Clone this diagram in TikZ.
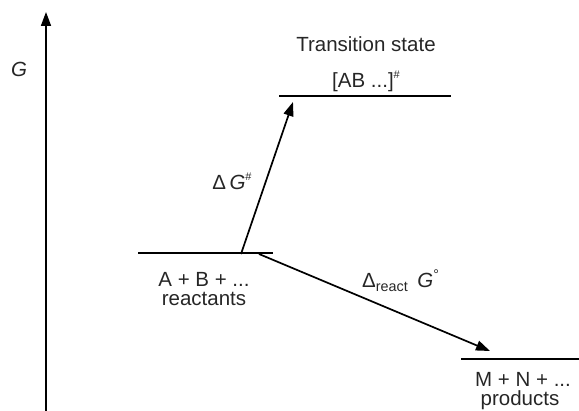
\documentclass[tikz,border=0pt]{standalone}
\usepackage{fontspec}
\setmainfont{Liberation Sans}
\usetikzlibrary{arrows.meta}
\newcommand{\hashsup}{\raisebox{9pt}{\fontsize{11}{11}\selectfont\#}}
\begin{document}
\begin{tikzpicture}[x=1pt,y=-1pt,
  lvl/.style={line width=1.7pt},
  arr/.style={line width=1.7pt,-{Triangle[length=14pt,width=10pt]}},
  txt/.style={font=\fontsize{20.5}{24}\selectfont, inner sep=0pt, text=black!85}]
\useasboundingbox (0,0) rectangle (579,411);
% axis
\coordinate (ax0) at (46,411);
\coordinate (ax1) at (46,12);
\draw[arr] (ax0) -- (ax1);
\node[txt] (glab) at (19,69) {\textit{G}};
% levels
\coordinate (tsL) at (279,96);
\coordinate (tsR) at (451,96);
\draw[lvl] (tsL) -- (tsR);
\coordinate (reL) at (138,253);
\coordinate (reR) at (273,253);
\draw[lvl] (reL) -- (reR);
\coordinate (prL) at (461,359);
\coordinate (prR) at (579,359);
\draw[lvl] (prL) -- (prR);
% texts
\node[txt] (ts1) at (366,44) {Transition state};
\node[txt, anchor=base] (ts2) at (366,88) {[AB ...]\hashsup};
\node[txt, anchor=base] (re1) at (204,287) {A + B + ...};
\node[txt, anchor=base] (re2) at (204,306) {reactants};
\node[txt, anchor=base] (pr1) at (523,387) {M + N + ...};
\node[txt, anchor=base] (pr2) at (520,406) {products};
% arrows
\coordinate (a1s) at (241,254);
\coordinate (a1e) at (293,102);
\draw[arr] (a1s) -- (a1e);
\node[txt, anchor=base] (dg) at (232,190) {Δ\,\textit{G}\hashsup};
\coordinate (a2s) at (259,254);
\coordinate (a2e) at (490,351);
\draw[arr] (a2s) -- (a2e);
\node[txt, anchor=base west] (dr) at (362,288) {Δ\textsubscript{react}\, \textit{G}\raisebox{8pt}{\fontsize{14}{14}\selectfont°}};
\end{tikzpicture}
\end{document}
